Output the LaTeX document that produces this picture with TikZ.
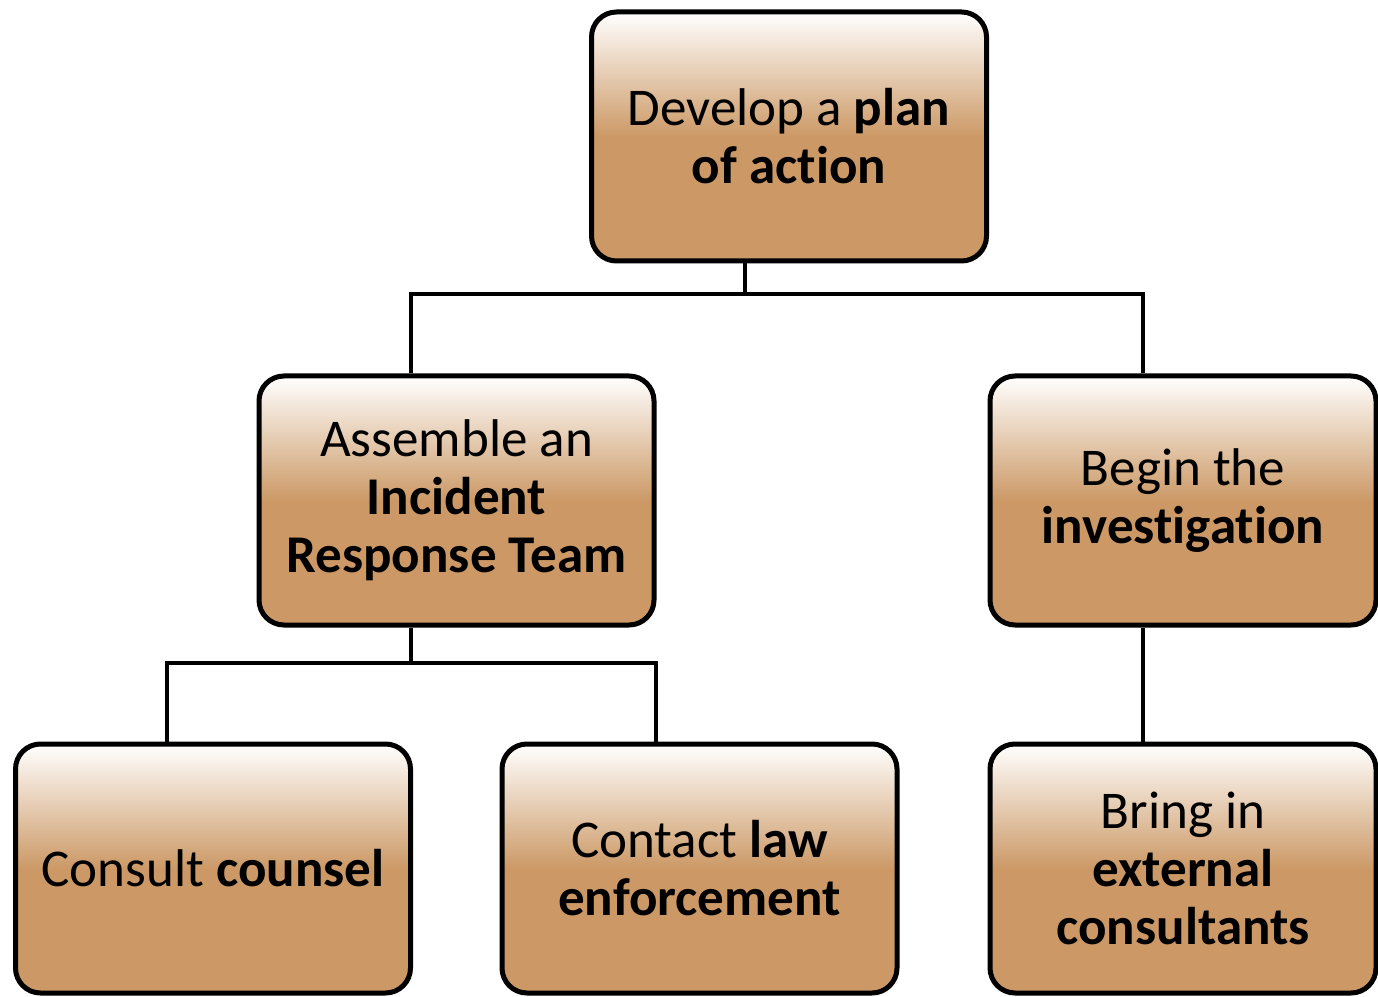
\documentclass[tikz,border=0pt]{standalone}
\usepackage{fontspec}
\setmainfont{Carlito}[Ligatures=NoCommon]
\usetikzlibrary{positioning}

\definecolor{boxtan}{RGB}{204,153,102}
\pgfdeclareverticalshading{tanshade}{100bp}{color(0bp)=(boxtan); color(25bp)=(boxtan); color(50bp)=(boxtan); color(75bp)=(white); color(100bp)=(white)}

\begin{document}
\begin{tikzpicture}[
    task/.style={rectangle, draw, line width=0.05cm, shading=tanshade, rounded corners=0.25cm, minimum width=3.95cm, minimum height=2.49cm, inner sep=0pt, align=center, font=\fontsize{15.1}{16.5}\selectfont},
    narrow/.style={task, minimum width=3.86cm},
    link/.style={line width=0.042cm}
]
    \useasboundingbox (0,0) rectangle (13.78,-9.97);

    % tasks
    \node[task] (plan) at (7.89,-1.365) {Develop a \textbf{plan}\\\textbf{of action}};
    \node[task] (team) at (4.565,-5.005) {Assemble an\\\textbf{Incident}\\\textbf{Response Team}};
    \node[narrow] (invest) at (11.83,-5.005) {Begin the\\\textbf{investigation}};
    \node[task] (counsel) at (2.13,-8.685) {Consult \textbf{counsel}};
    \node[task] (law) at (6.995,-8.685) {Contact \textbf{law}\\\textbf{enforcement}};
    \node[narrow] (extern) at (11.83,-8.685) {Bring in\\\textbf{external}\\\textbf{consultants}};

    % junction bars
    \coordinate (top drop) at (7.45,-2.94);
    \coordinate (top left) at (4.11,-2.94);
    \coordinate (top right) at (11.43,-2.94);
    \coordinate (mid drop) at (4.11,-6.63);
    \coordinate (mid left) at (1.67,-6.63);
    \coordinate (mid right) at (6.56,-6.63);

    \draw[link] (top drop |- plan.south) -- (top drop);
    \draw[link] (top left |- team.north) -- (top left) -- (top right) -- (top right |- invest.north);
    \draw[link] (mid drop |- team.south) -- (mid drop);
    \draw[link] (mid left |- counsel.north) -- (mid left) -- (mid right) -- (mid right |- law.north);
    \draw[link] (top right |- invest.south) -- (top right |- extern.north);
\end{tikzpicture}
\end{document}
